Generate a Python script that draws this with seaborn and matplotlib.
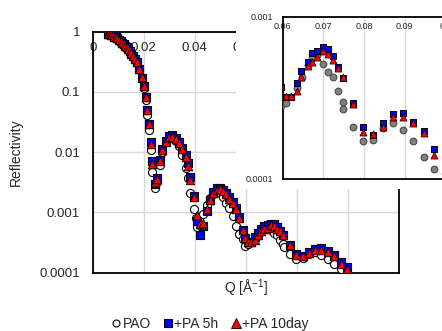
import numpy as np
import pandas as pd
import matplotlib
matplotlib.use('Agg')
import matplotlib.pyplot as plt
from matplotlib.lines import Line2D
from matplotlib.patches import Rectangle
from matplotlib.ticker import NullLocator
import seaborn as sns

# Q values [1/A] and reflectivity
q_pa = [0.0061, 0.0067, 0.0073, 0.0079, 0.0085, 0.0091, 0.0097, 0.0103, 0.0109, 0.0115,
        0.0121, 0.0127, 0.0133, 0.0139, 0.0145, 0.0151, 0.0158, 0.0165, 0.0172, 0.0182,
        0.0193, 0.0200, 0.0207, 0.0213, 0.0220, 0.0227, 0.0234, 0.0243, 0.0252, 0.0262,
        0.0273, 0.0286, 0.0299, 0.0312, 0.0325, 0.0338, 0.0351, 0.0364, 0.0373, 0.0382,
        0.0395, 0.0410, 0.0421, 0.0434, 0.0447, 0.0460, 0.0473, 0.0486, 0.0499, 0.0512,
        0.0522, 0.0535, 0.0548, 0.0561, 0.0574, 0.0587, 0.0597, 0.0608, 0.0620, 0.0634,
        0.0646, 0.0661, 0.0673, 0.0685, 0.0698, 0.0711, 0.0723, 0.0735, 0.0747, 0.0772,
        0.0798, 0.0822, 0.0847, 0.0872, 0.0896, 0.0921, 0.0947, 0.0972, 0.0998]

r_10day = [0.933, 0.912, 0.891, 0.871, 0.832, 0.813, 0.776, 0.741, 0.708, 0.661,
           0.631, 0.589, 0.550, 0.513, 0.479, 0.437, 0.398, 0.355, 0.316, 0.240,
           0.174, 0.126, 0.0832, 0.0501, 0.0295, 0.0138, 0.00631, 0.00316, 0.00355, 0.00708,
           0.0107, 0.0148, 0.0178, 0.0182, 0.0166, 0.0141, 0.0112, 0.00832, 0.00589, 0.00347,
           0.00182, 0.000891, 0.000631, 0.000676, 0.00112, 0.00162, 0.00214, 0.00240, 0.00245, 0.00224,
           0.00200, 0.00170, 0.00141, 0.00115, 0.000794, 0.000513, 0.000380, 0.000326, 0.000324, 0.000348,
           0.000427, 0.000497, 0.000526, 0.000562, 0.000618, 0.000589, 0.000538, 0.000485, 0.000423, 0.000288,
           0.000194, 0.000189, 0.000210, 0.000242, 0.000242, 0.000222, 0.000191, 0.000141, 0.000114]

r_5h = [0.930, 0.910, 0.889, 0.868, 0.830, 0.810, 0.773, 0.738, 0.705, 0.658,
        0.628, 0.586, 0.547, 0.510, 0.476, 0.434, 0.395, 0.352, 0.313, 0.238,
        0.172, 0.125, 0.0820, 0.0495, 0.0290, 0.0145, 0.0071, 0.0030, 0.0038, 0.0074,
        0.0112, 0.0155, 0.0186, 0.0191, 0.0174, 0.0148, 0.0118, 0.0089, 0.0065, 0.0039,
        0.0019, 0.00071, 0.00043, 0.00060, 0.00105, 0.00162, 0.00219, 0.00251, 0.00257, 0.00234,
        0.00209, 0.00178, 0.00148, 0.00120, 0.00083, 0.00052, 0.00037, 0.000318, 0.000318, 0.000388,
        0.000462, 0.000524, 0.000594, 0.000618, 0.000653, 0.000635, 0.000575, 0.000488, 0.000417, 0.000292,
        0.000208, 0.000187, 0.000222, 0.000251, 0.000256, 0.000225, 0.000198, 0.000153, 0.000123]

q_pao = [0.0061, 0.0067, 0.0073, 0.0079, 0.0085, 0.0091, 0.0097, 0.0103, 0.0109, 0.0115,
         0.0121, 0.0127, 0.0133, 0.0139, 0.0145, 0.0151, 0.0158, 0.0165, 0.0172, 0.0182,
         0.0193, 0.0200, 0.0207, 0.0213, 0.0220, 0.0227, 0.0234, 0.0243, 0.0252, 0.0262,
         0.0273, 0.0286, 0.0299, 0.0312, 0.0325, 0.0338, 0.0351, 0.0364, 0.0373, 0.0382,
         0.0395, 0.0405, 0.0410, 0.0421, 0.0434, 0.0447, 0.0460, 0.0473, 0.0486, 0.0499,
         0.0512, 0.0522, 0.0535, 0.0548, 0.0561, 0.0574, 0.0587, 0.0597, 0.0608, 0.0634,
         0.0648, 0.0661, 0.0673, 0.0685, 0.0698, 0.0711, 0.0723, 0.0735, 0.0747, 0.0748,
         0.0772, 0.0798, 0.0822, 0.0847, 0.0872, 0.0896, 0.0921, 0.0947, 0.0972]

r_pao = [0.930, 0.910, 0.889, 0.868, 0.830, 0.810, 0.773, 0.738, 0.705, 0.658,
         0.628, 0.586, 0.547, 0.510, 0.476, 0.434, 0.395, 0.352, 0.313, 0.236,
         0.168, 0.117, 0.0724, 0.0417, 0.0234, 0.0110, 0.00468, 0.00251, 0.00316, 0.00603,
         0.0100, 0.0145, 0.0174, 0.0174, 0.0155, 0.0126, 0.00912, 0.00537, 0.00380, 0.00209,
         0.00112, 0.000813, 0.000575, 0.000617, 0.000933, 0.00135, 0.00174, 0.00204, 0.00219, 0.00209,
         0.00178, 0.00145, 0.00117, 0.000871, 0.000603, 0.000437, 0.000363, 0.000282, 0.000295, 0.000362,
         0.000427, 0.000504, 0.000553, 0.000581, 0.000513, 0.000458, 0.000423, 0.000350, 0.000299, 0.000270,
         0.000208, 0.000171, 0.000174, 0.000205, 0.000220, 0.000199, 0.000172, 0.000137, 0.000116]

main_xticks = [0, 0.02, 0.04, 0.06, 0.08, 0.1, 0.12]
main_xlabels = ['0', '0.02', '0.04', '0.06', '0.08', '0.1', '0.12']
main_yticks = [1, 0.1, 0.01, 0.001, 0.0001]
main_ylabels = ['1', '0.1', '0.01', '0.001', '0.0001']
inset_xticks = [0.06, 0.07, 0.08, 0.09, 0.1]
inset_xlabels = ['0.06', '0.07', '0.08', '0.09', '0.1']
inset_yticks = [0.001, 0.0001]
inset_ylabels = ['0.001', '0.0001']

pao = pd.DataFrame({'q': q_pao, 'r': r_pao})
pa5h = pd.DataFrame({'q': q_pa, 'r': r_5h})
pa10 = pd.DataFrame({'q': q_pa, 'r': r_10day})

sns.set_style('white')
plt.rcParams['font.family'] = ['Liberation Sans', 'DejaVu Sans']
plt.rcParams['mathtext.default'] = 'regular'
txt = '#262626'

W, H = 442, 331
fig = plt.figure(figsize=(W / 100, H / 100), dpi=100)
ax = fig.add_axes([92.7 / W, 1 - 272.7 / H, (399 - 92.7) / W, (272.7 - 31.7) / H])

# main plot
sns.scatterplot(data=pao, x='q', y='r', marker='o', s=34, color='white', edgecolor='black', linewidth=0.8, ax=ax, zorder=3)
sns.scatterplot(data=pa5h, x='q', y='r', marker='s', s=34, color='#0000ff', edgecolor='black', linewidth=0.8, ax=ax, zorder=4)
sns.scatterplot(data=pa10, x='q', y='r', marker='^', s=38, color='#ff0000', edgecolor='black', linewidth=0.6, ax=ax, zorder=5)
ax.set_yscale('log')
ax.set_xlim(0, 0.12)
ax.set_ylim(0.0001, 1)
ax.set_xticks(main_xticks)
ax.set_xticklabels(main_xlabels)
ax.set_yticks(main_yticks)
ax.set_yticklabels(main_ylabels)
ax.yaxis.set_minor_locator(NullLocator())
ax.xaxis.set_ticks_position('top')
ax.tick_params(axis='x', length=0, pad=-16, labelsize=9.5, labeltop=True, labelbottom=False, colors=txt)
ax.tick_params(axis='y', length=0, pad=9, labelsize=9.5, colors=txt)
ax.grid(True, color='#d9d9d9', linewidth=1)
for sp in ax.spines.values():
    sp.set_color('black')
    sp.set_linewidth(1.3)
ax.set_xlabel('Q [Å$^{-1}$]', fontsize=10, color=txt)
ax.xaxis.set_label_position('bottom')
ax.xaxis.set_label_coords(0.5, -0.02)
ax.set_ylabel('Reflectivity', fontsize=10, color=txt)
ax.yaxis.set_label_coords(-0.228, 0.5)

# white chart area behind inset
fig.add_artist(Rectangle((236 / W, 1 - 189 / H), 0.5, 0.6, transform=fig.transFigure,
                         facecolor='white', edgecolor='none', zorder=1))

ins = fig.add_axes([282.7 / W, 1 - 179 / H, (445.5 - 282.7) / W, (179 - 16.7) / H], zorder=2)
sns.scatterplot(data=pao, x='q', y='r', marker='o', s=24, color='#808080', edgecolor='#404040', linewidth=0.7, ax=ins, zorder=3)
sns.scatterplot(data=pa5h, x='q', y='r', marker='s', s=24, color='#0000ff', edgecolor='black', linewidth=0.7, ax=ins, zorder=4)
sns.scatterplot(data=pa10, x='q', y='r', marker='^', s=26, color='#ff0000', edgecolor='black', linewidth=0.5, ax=ins, zorder=5)
ins.set_yscale('log')
ins.set_xlim(0.06, 0.1)
ins.set_ylim(0.0001, 0.001)
ins.set_xticks(inset_xticks)
ins.set_xticklabels(inset_xlabels)
ins.set_yticks(inset_yticks)
ins.set_yticklabels(inset_ylabels)
ins.yaxis.set_minor_locator(NullLocator())
ins.xaxis.set_ticks_position('top')
ins.tick_params(axis='x', length=0, pad=-10, labelsize=6.5, labeltop=True, labelbottom=False, colors=txt)
ins.tick_params(axis='y', length=0, pad=7, labelsize=6.5, colors=txt)
ins.grid(True, axis='x', color='#d9d9d9', linewidth=1)
ins.grid(False, axis='y')
ins.set_xlabel('')
ins.set_ylabel('')
for sp in ins.spines.values():
    sp.set_color('black')
    sp.set_linewidth(1.3)

handles = [
    Line2D([], [], marker='o', linestyle='none', markersize=5, markerfacecolor='white', markeredgecolor='black', markeredgewidth=0.8),
    Line2D([], [], marker='s', linestyle='none', markersize=6, markerfacecolor='#0000ff', markeredgecolor='black', markeredgewidth=0.8),
    Line2D([], [], marker='^', linestyle='none', markersize=6.5, markerfacecolor='#ff0000', markeredgecolor='black', markeredgewidth=0.6),
]
fig.legend(handles, ['PAO', '+PA 5h', '+PA 10day'], loc='center', bbox_to_anchor=(0.475, 0.022),
           ncol=3, frameon=False, fontsize=10, handlelength=0.7, handletextpad=0.1, columnspacing=0.9,
           labelcolor=txt)

fig.savefig('out.png', dpi=100)
